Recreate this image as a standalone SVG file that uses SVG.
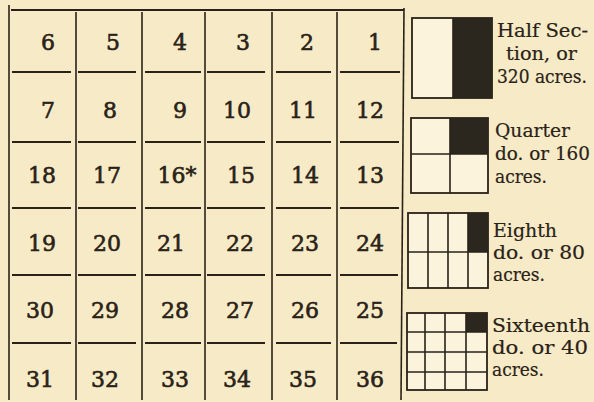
<svg xmlns="http://www.w3.org/2000/svg" width="594" height="402" viewBox="0 0 594 402">
<style>
.bg{fill:#f7ebc7}
.ln{stroke:#2a2218;stroke-width:1.6;fill:none}
.hl{stroke:#2a2218;stroke-width:2.2;fill:none}
.box{stroke:#2a2218;stroke-width:1.8;fill:#fbf3dc}
.dk{fill:#2b261e}
.num{font-family:"DejaVu Serif","Liberation Serif",serif;font-size:22px;fill:#2a2218;stroke:#2a2218;stroke-width:0.6;text-anchor:middle}
.lg{font-family:"DejaVu Serif","Liberation Serif",serif;font-size:18px;fill:#2a2218;stroke:#2a2218;stroke-width:0.2}
</style>
<rect class="bg" x="0" y="0" width="594" height="402"/>
<g id="grid-lines">
<line class="ln" x1="9" y1="5" x2="9" y2="400"/>
<line class="hl" x1="11" y1="10" x2="404" y2="10"/>
<line class="ln" x1="76" y1="12" x2="76" y2="400"/>
<line class="ln" x1="142" y1="12" x2="142" y2="400"/>
<line class="ln" x1="205" y1="12" x2="205" y2="400"/>
<line class="ln" x1="272" y1="12" x2="272" y2="400"/>
<line class="ln" x1="337" y1="12" x2="337" y2="400"/>
<line class="ln" x1="404" y1="8" x2="401" y2="400"/>
<path class="hl" d="M12 72H71M78 72H136M145 72H201M207 72H265M276 72H331M340 72H400M12 142H71M78 142H136M145 142H201M207 142H265M276 142H331M340 142H399M12 208H71M78 208H136M145 208H201M207 208H265M276 208H331M340 208H399M12 275H71M78 275H136M145 275H201M207 275H265M276 275H331M340 275H398M12 343H71M78 343H136M145 343H201M207 343H265M276 343H331M340 343H397"/>
</g>
<g id="sections">
<text class="num" x="48" y="50">6</text><text class="num" x="113" y="50">5</text><text class="num" x="180" y="50">4</text><text class="num" x="243" y="50">3</text><text class="num" x="307" y="50">2</text><text class="num" x="375" y="50">1</text>
<text class="num" x="48" y="118">7</text><text class="num" x="110" y="118">8</text><text class="num" x="180" y="118">9</text><text class="num" x="237" y="118">10</text><text class="num" x="303" y="118">11</text><text class="num" x="370" y="118">12</text>
<text class="num" x="42" y="183">18</text><text class="num" x="107" y="183">17</text><text class="num" x="177" y="183">16*</text><text class="num" x="241" y="183">15</text><text class="num" x="305" y="183">14</text><text class="num" x="370" y="183">13</text>
<text class="num" x="42" y="251">19</text><text class="num" x="107" y="251">20</text><text class="num" x="171" y="251">21</text><text class="num" x="240" y="251">22</text><text class="num" x="305" y="251">23</text><text class="num" x="370" y="251">24</text>
<text class="num" x="40" y="318">30</text><text class="num" x="105" y="318">29</text><text class="num" x="175" y="318">28</text><text class="num" x="240" y="318">27</text><text class="num" x="305" y="318">26</text><text class="num" x="370" y="318">25</text>
<text class="num" x="40" y="387">31</text><text class="num" x="105" y="387">32</text><text class="num" x="175" y="387">33</text><text class="num" x="237" y="387">34</text><text class="num" x="303" y="387">35</text><text class="num" x="370" y="387">36</text>
</g>
<g id="legend-half">
<rect class="box" x="412" y="18" width="80" height="80"/>
<rect class="dk" x="453" y="18" width="39" height="80"/>
<line class="ln" x1="453" y1="18" x2="453" y2="98"/>
<text class="lg" x="497" y="37" textLength="91" lengthAdjust="spacingAndGlyphs">Half Sec-</text>
<text class="lg" x="506" y="60" textLength="71" lengthAdjust="spacingAndGlyphs">tion, or</text>
<text class="lg" x="497" y="83" textLength="90" lengthAdjust="spacingAndGlyphs">320 acres.</text>
</g>
<g id="legend-quarter">
<rect class="box" x="411" y="118" width="77" height="75"/>
<rect class="dk" x="450" y="118" width="38" height="36"/>
<path class="ln" d="M450 118V193M411 154H488"/>
<text class="lg" x="495" y="137" textLength="75" lengthAdjust="spacingAndGlyphs">Quarter</text>
<text class="lg" x="495" y="160" textLength="95" lengthAdjust="spacingAndGlyphs">do. or 160</text>
<text class="lg" x="495" y="183" textLength="52" lengthAdjust="spacingAndGlyphs">acres.</text>
</g>
<g id="legend-eighth">
<rect class="box" x="408" y="213" width="80" height="75"/>
<rect class="dk" x="468" y="213" width="20" height="39"/>
<path class="ln" d="M428 213V288M448 213V288M468 213V288M408 252H488"/>
<text class="lg" x="493" y="237" textLength="64" lengthAdjust="spacingAndGlyphs">Eighth</text>
<text class="lg" x="493" y="259" textLength="92" lengthAdjust="spacingAndGlyphs">do. or 80</text>
<text class="lg" x="493" y="281" textLength="52" lengthAdjust="spacingAndGlyphs">acres.</text>
</g>
<g id="legend-sixteenth">
<rect class="box" x="407" y="313" width="80" height="77"/>
<rect class="dk" x="466" y="313" width="21" height="19"/>
<path class="ln" d="M425 313V390M445 313V390M466 313V390M407 332H487M407 352H487M407 372H487"/>
<text class="lg" x="492" y="332" textLength="98" lengthAdjust="spacingAndGlyphs">Sixteenth</text>
<text class="lg" x="492" y="354" textLength="96" lengthAdjust="spacingAndGlyphs">do. or 40</text>
<text class="lg" x="492" y="376" textLength="52" lengthAdjust="spacingAndGlyphs">acres.</text>
</g>
</svg>
